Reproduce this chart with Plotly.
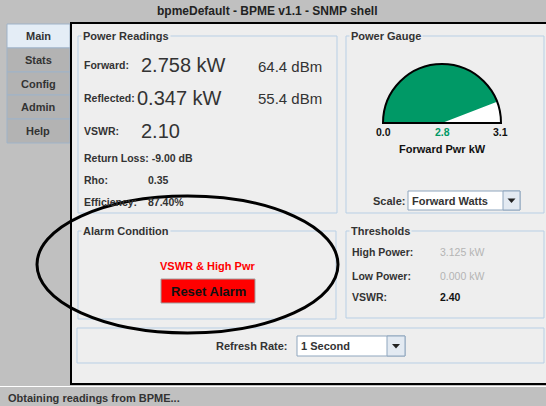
import plotly.graph_objects as go

# ---------------- data ----------------
title_text = "bpmeDefault - BPME v1.1 - SNMP shell"
tabs = ["Main", "Stats", "Config", "Admin", "Help"]
forward_kw = 2.758
forward_dbm = 64.4
reflected_kw = 0.347
reflected_dbm = 55.4
vswr = 2.10
return_loss_db = -9.00
rho = 0.35
efficiency_pct = 87.40
gauge_min = 0.0
gauge_max = 3.125
gauge_title = "Forward Pwr kW"
high_power_kw = 3.125
low_power_kw = 0.000
vswr_threshold = 2.40
alarm_text = "VSWR & High Pwr"
scale_option = "Forward Watts"
refresh_option = "1 Second"
status_text = "Obtaining readings from BPME..."

# ---------------- styles ----------------
FONT = "Liberation Sans, Arial, sans-serif"
BG = "#C0C0C0"
PANEL = "#EEEEEE"
BORDER = "#B8CFE5"
TXT = "#333333"
GREEN = "#009966"
W, H = 546, 406

fig = go.Figure()

# gauge as a half polar
frac = (forward_kw - gauge_min) / (gauge_max - gauge_min)
span = 180 * frac
fig.add_trace(go.Barpolar(r=[1], theta=[span / 2], width=[span],
                          marker=dict(color=GREEN, line=dict(width=0)),
                          hoverinfo="skip", showlegend=False))

shapes = []
ann = []


def rect(x0, y0, x1, y1, fill=None, line=None, lw=1, layer="below"):
    shapes.append(dict(type="rect", xref="x", yref="y", x0=x0, y0=y0, x1=x1, y1=y1,
                       fillcolor=fill if fill else "rgba(0,0,0,0)",
                       line=dict(color=line if line else "rgba(0,0,0,0)", width=lw if line else 0),
                       layer=layer))


def text(x, y, t, size=10.5, color=TXT, bold=True, anchor="left", bg=None):
    ann.append(dict(x=x, y=y, xref="x", yref="y", text=("<b>%s</b>" % t) if bold else t,
                    showarrow=False, xanchor=anchor, yanchor="middle",
                    font=dict(family=FONT, size=size, color=color),
                    bgcolor=bg if bg else "rgba(0,0,0,0)", borderpad=1))


# title bar
text(267, 11, title_text, size=12, color="#222222", anchor="center")

# tabs
tab_edges = [24, 48, 72, 95, 119, 143]
for i, t in enumerate(tabs):
    y0, y1 = tab_edges[i], tab_edges[i + 1]
    fill = "#E4EDF6" if i == 0 else "#B3B3B3"
    rect(7, y0, 70, y1, fill=fill, line="#9FB3C8", lw=1)
    text(38, (y0 + y1) / 2, t, size=11, color=TXT, anchor="center")

# main content panel
rect(71, 23, 550, 384, fill=PANEL, line="#000000", lw=2)

# status bar
shapes.append(dict(type="line", xref="x", yref="y", x0=0, x1=W, y0=386.5, y1=386.5,
                   line=dict(color="#FFFFFF", width=1), layer="below"))
text(6, 398, status_text, size=11, color=TXT)


def titled(x0, y0, x1, y1, title):
    rect(x0, y0, x1, y1, line=BORDER, lw=1)
    if title:
        text(x0 + 3, y0, title, size=11, color=TXT, bg=PANEL)


titled(78, 36, 337, 213, "Power Readings")
titled(346, 36, 544, 213, "Power Gauge")
titled(78, 231, 336, 319, "Alarm Condition")
titled(346, 231, 544, 318, "Thresholds")
titled(77, 328, 544, 363, None)

# power readings
text(82, 65, "Forward:")
text(139, 65, "%.3f kW" % forward_kw, size=20, bold=False)
text(256, 66, "%.1f dBm" % forward_dbm, size=15, bold=False)
text(82, 98, "Reflected:")
text(135, 98, "%.3f kW" % reflected_kw, size=20, bold=False)
text(256, 98, "%.1f dBm" % reflected_dbm, size=15, bold=False)
text(82, 131, "VSWR:")
text(139, 131, "%.2f" % vswr, size=20, bold=False)
text(82, 158, "Return Loss: %.2f dB" % return_loss_db)
text(82, 180, "Rho:")
text(146, 180, "%.2f" % rho)
text(82, 202, "Efficiency:")
text(146, 202, "%.2f%%" % efficiency_pct)

# gauge labels
text(383, 132, "%.1f" % gauge_min, color="#111111", anchor="center")
text(442, 132, "%.1f" % forward_kw, color=GREEN, anchor="center")
text(500, 132, "%.1f" % gauge_max, color="#111111", anchor="center")
text(442, 149, gauge_title, size=11, color="#111111", anchor="center")


def combo(x0, y0, x1, y1, bx, label):
    rect(x0, y0, x1, y1, fill="#FFFFFF", line="#8FA6BE", lw=1)
    rect(bx, y0, x1, y1, fill="#E3EAF2", line="#8FA6BE", lw=1)
    cx, cy = (bx + x1) / 2, (y0 + y1) / 2
    shapes.append(dict(type="path", xref="x", yref="y",
                       path="M %.1f %.1f L %.1f %.1f L %.1f %.1f Z" % (cx - 4, cy - 2, cx + 4, cy - 2, cx, cy + 2.5),
                       fillcolor="#222222", line=dict(width=0), layer="below"))
    text(x0 + 2, (y0 + y1) / 2, label, size=11)


text(371, 201, "Scale:", size=11)
combo(408, 191, 520, 210, 503, scale_option)

# alarm
text(207, 266, alarm_text, size=11, color="#FF0000", anchor="center")
rect(161, 279, 255, 303, fill="#FF0000", line="#A0A0A0", lw=1)
text(208, 291, "Reset Alarm", size=13, color="#111111", anchor="center")

# thresholds
text(350, 252, "High Power:")
text(438, 252, "%.3f kW" % high_power_kw, color="#B4B4B4", bold=False)
text(350, 276, "Low Power:")
text(438, 276, "%.3f kW" % low_power_kw, color="#B4B4B4", bold=False)
text(350, 297, "VSWR:")
text(438, 297, "%.2f" % vswr_threshold, color="#111111")

# refresh
text(290, 346, "Refresh Rate:", size=11, anchor="right")
combo(297, 336, 405, 356, 387, refresh_option)

# annotation ellipse
shapes.append(dict(type="circle", xref="x", yref="y", x0=37, x1=338, y0=196, y1=333,
                   line=dict(color="#000000", width=3), layer="above"))

fig.update_layout(
    width=W, height=H, margin=dict(l=0, r=0, t=0, b=0),
    paper_bgcolor=BG, plot_bgcolor=BG, showlegend=False,
    xaxis=dict(range=[0, W], visible=False, fixedrange=True),
    yaxis=dict(range=[H, 0], visible=False, fixedrange=True),
    shapes=shapes, annotations=ann,
    polar=dict(
        domain=dict(x=[383 / W, 501 / W], y=[(H - 123) / H, (H - 64) / H]),
        sector=[0, 180], bgcolor="#FFFFFF", hole=0,
        radialaxis=dict(range=[0, 1], visible=False),
        angularaxis=dict(rotation=180, direction="clockwise", showgrid=False,
                         showticklabels=False, ticks="", showline=True,
                         linecolor="#000000", linewidth=2),
    ),
)

fig.write_html("out.html", config={"displayModeBar": False, "staticPlot": True},
               post_script="document.body.style.margin='0';")
